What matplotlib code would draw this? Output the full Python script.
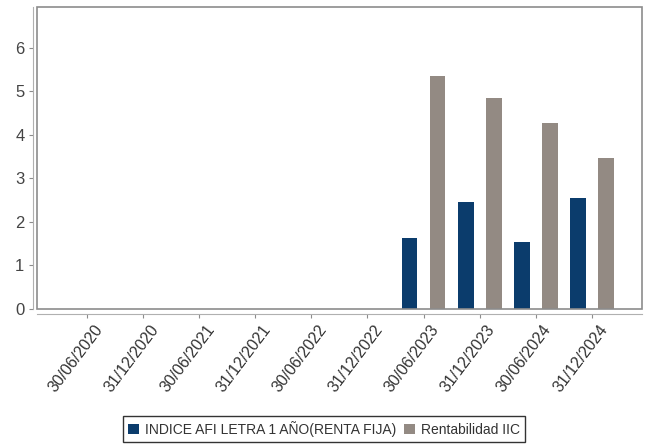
import matplotlib.pyplot as plt
import matplotlib.patches as mpatches
from matplotlib.transforms import ScaledTranslation
import numpy as np

plt.rcParams["font.family"] = ["Liberation Sans", "DejaVu Sans"]

fechas = ["30/06/2020", "31/12/2020", "30/06/2021", "31/12/2021", "30/06/2022",
          "31/12/2022", "30/06/2023", "31/12/2023", "30/06/2024", "31/12/2024"]
indice_afi = [0, 0, 0, 0, 0, 0, 1.63, 2.46, 1.54, 2.54]
rentabilidad_iic = [0, 0, 0, 0, 0, 0, 5.35, 4.85, 4.26, 3.47]

navy = "#0b3c6c"
taupe = "#938a83"
frame = "#8c8c8c"

fig = plt.figure(figsize=(6.49, 4.45), dpi=100)
ax = fig.add_axes([0.057, 0.306, 0.932, 0.678])

x = np.arange(len(fechas))
w = 0.28
ax.bar(x - 0.25, indice_afi, width=w, color=navy, label="INDICE AFI LETRA 1 AÑO(RENTA FIJA)")
ax.bar(x + 0.25, rentabilidad_iic, width=w, color=taupe, label="Rentabilidad IIC")

ax.set_xlim(-0.89, 9.89)
ax.set_ylim(0, 6.93)
ax.set_yticks(range(0, 7))
ax.set_xticks(x)
ax.tick_params(axis="y", labelsize=12, labelcolor="#444444", length=3, color=frame, pad=3)
ax.tick_params(axis="x", length=3, color=frame, pad=6)

# offset axis lines plus the plot frame
ax.spines["left"].set_position(("outward", 3))
ax.spines["bottom"].set_position(("outward", 4))
for s in ["left", "bottom"]:
    ax.spines[s].set_color("#b0b0b0")
ax.spines["top"].set_visible(False)
ax.spines["right"].set_visible(False)
ax.add_patch(mpatches.Rectangle((0, 0), 1, 1, transform=ax.transAxes, fill=False,
                                edgecolor=frame, linewidth=1.2, clip_on=False))

labels = ax.set_xticklabels(fechas, fontsize=11.5, color="#333333")
offset = ScaledTranslation(9 / 72, 0, fig.dpi_scale_trans)
for lbl in labels:
    lbl.set_rotation(53)
    lbl.set_rotation_mode("anchor")
    lbl.set_horizontalalignment("right")
    lbl.set_verticalalignment("center")
    lbl.set_transform(lbl.get_transform() + offset)

leg = fig.legend(loc="center", bbox_to_anchor=(0.499, 0.036), ncol=2, fontsize=10,
                 frameon=True, fancybox=False, edgecolor="black", handlelength=0.8,
                 handleheight=0.8, handletextpad=0.4, columnspacing=0.6, borderpad=0.35)
leg.get_frame().set_linewidth(1.0)
for t in leg.get_texts():
    t.set_color("#333333")

fig.savefig("out.png", dpi=100)
